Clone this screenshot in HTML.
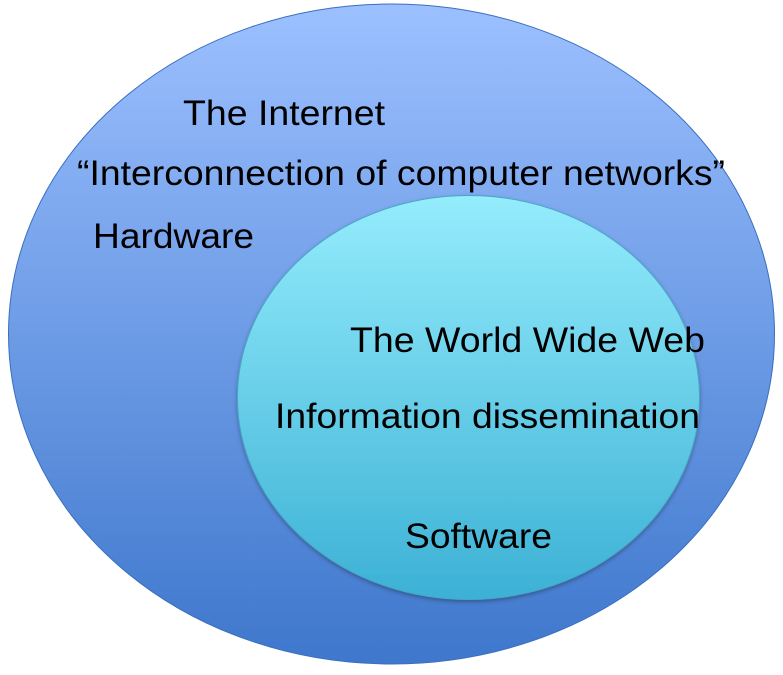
<!DOCTYPE html>
<html>
<head>
<meta charset="utf-8">
<style>
html,body{margin:0;padding:0;background:#fff;}
svg{display:block;}
text{font-family:"Liberation Sans",sans-serif;font-size:35px;fill:#000;}
</style>
</head>
<body>
<svg width="783" height="675" viewBox="0 0 783 675">
  <defs>
    <linearGradient id="outerGrad" x1="0" y1="0" x2="0" y2="1">
      <stop offset="0" stop-color="#9cc0ff"/>
      <stop offset="1" stop-color="#3e77cc"/>
    </linearGradient>
    <linearGradient id="innerGrad" x1="0" y1="0" x2="0" y2="1">
      <stop offset="0" stop-color="#94ecfc"/>
      <stop offset="1" stop-color="#3cb1d5"/>
    </linearGradient>
    <filter id="shadow" x="-10%" y="-10%" width="120%" height="120%">
      <feDropShadow dx="0" dy="2" stdDeviation="2" flood-color="#000" flood-opacity="0.3"/>
    </filter>
  </defs>
  <ellipse cx="391.5" cy="334" rx="383" ry="330" fill="url(#outerGrad)" stroke="#3a6fbf" stroke-width="1"/>
  <ellipse cx="468.5" cy="397.5" rx="231" ry="202" fill="url(#innerGrad)" stroke="#4aa6c6" stroke-width="1" filter="url(#shadow)"/>
  <text x="183" y="125" textLength="202" lengthAdjust="spacingAndGlyphs">The Internet</text>
  <text x="77" y="185" textLength="648" lengthAdjust="spacingAndGlyphs">“Interconnection of computer networks”</text>
  <text x="93" y="248" textLength="161" lengthAdjust="spacingAndGlyphs">Hardware</text>
  <text x="350" y="352" textLength="355" lengthAdjust="spacingAndGlyphs">The World Wide Web</text>
  <text x="275" y="428" textLength="425" lengthAdjust="spacingAndGlyphs">Information dissemination</text>
  <text x="405" y="548" textLength="147" lengthAdjust="spacingAndGlyphs">Software</text>
</svg>
</body>
</html>
